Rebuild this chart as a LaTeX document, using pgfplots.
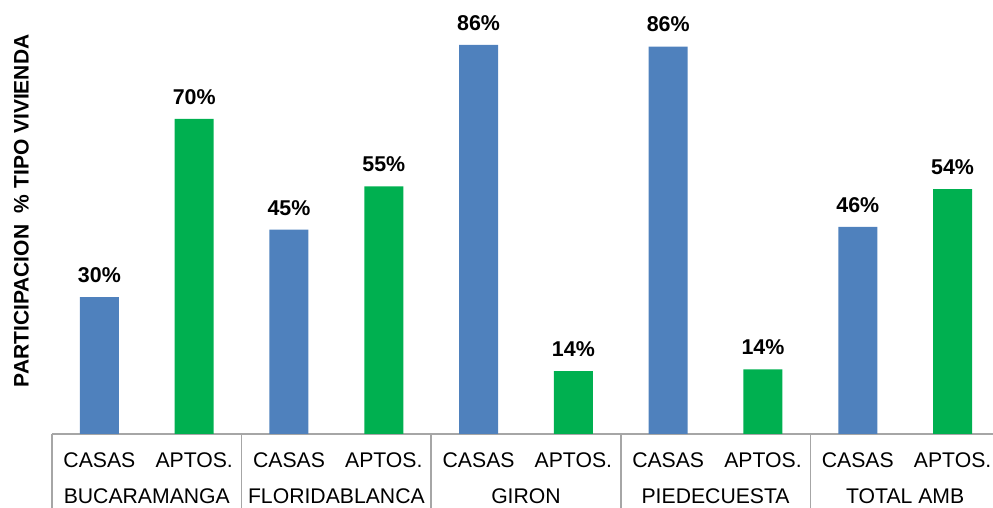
\documentclass[border=0pt]{standalone}
\usepackage{pgfplots}
\pgfplotsset{compat=1.18}
\usepackage{fontspec}
\setmainfont{Liberation Sans}
\definecolor{cblue}{HTML}{4F81BD}
\definecolor{cgreen}{HTML}{00B050}
\definecolor{cline}{HTML}{A6A6A6}
\begin{document}
\begin{tikzpicture}
\begin{axis}[
  width=474pt, height=214.7pt, scale only axis,
  xmin=0, xmax=10, ymin=0, ymax=95,
  hide y axis,
  axis x line*=bottom,
  x axis line style={-, cline, line width=0.8pt},
  xtick style={draw=none},
  xtick={0.5,1.5,2.5,3.5,4.5,5.5,6.5,7.5,8.5,9.5},
  xticklabels={CASAS,APTOS.,CASAS,APTOS.,CASAS,APTOS.,CASAS,APTOS.,CASAS,APTOS.},
  xticklabel style={anchor=base, yshift=-12.5pt, font=\fontsize{10.6}{12}\selectfont},
  /pgf/number format/assume math mode=true,
  ybar, bar width=19.5pt, bar shift=0pt,
  nodes near coords={\pgfmathprintnumber[fixed,precision=0]{\pgfplotspointmeta}\%},
  every node near coord/.append style={font=\bfseries\fontsize{10.7}{12}\selectfont, yshift=3.7pt, text=black},
  clip=false,
]
\addplot[ybar, bar shift=0pt, fill=cblue, draw=none] coordinates {(0.5,30.3) (2.5,45.2) (4.5,86.1) (6.5,85.7) (8.5,45.8)};
\addplot[ybar, bar shift=0pt, fill=cgreen, draw=none] coordinates {(1.5,69.7) (3.5,54.8) (5.5,13.9) (7.5,14.3) (9.5,54.2)};
\pgfplotsinvokeforeach{0,2,4,6,8,10}{
  \draw[cline, line width=0.8pt] (axis cs:#1,0) -- ++(0,-40pt);
}
\node[anchor=base, font=\fontsize{10.6}{12}\selectfont] at ([yshift=-35pt]axis cs:1,0) {BUCARAMANGA};
\node[anchor=base, font=\fontsize{10.6}{12}\selectfont] at ([yshift=-35pt]axis cs:3,0) {FLORIDABLANCA};
\node[anchor=base, font=\fontsize{10.6}{12}\selectfont] at ([yshift=-35pt]axis cs:5,0) {GIRON};
\node[anchor=base, font=\fontsize{10.6}{12}\selectfont] at ([yshift=-35pt]axis cs:7,0) {PIEDECUESTA};
\node[anchor=base, font=\fontsize{10.6}{12}\selectfont] at ([yshift=-35pt]axis cs:9,0) {TOTAL AMB};
\end{axis}
\node[rotate=90, font=\bfseries\fontsize{10.5}{12}\selectfont] at (-15.25pt,111.5pt) {PARTICIPACION \ \% TIPO VIVIENDA};
\pgfresetboundingbox
\useasboundingbox (-26pt,-37pt) rectangle (470.5pt,217pt);
\end{tikzpicture}
\end{document}
